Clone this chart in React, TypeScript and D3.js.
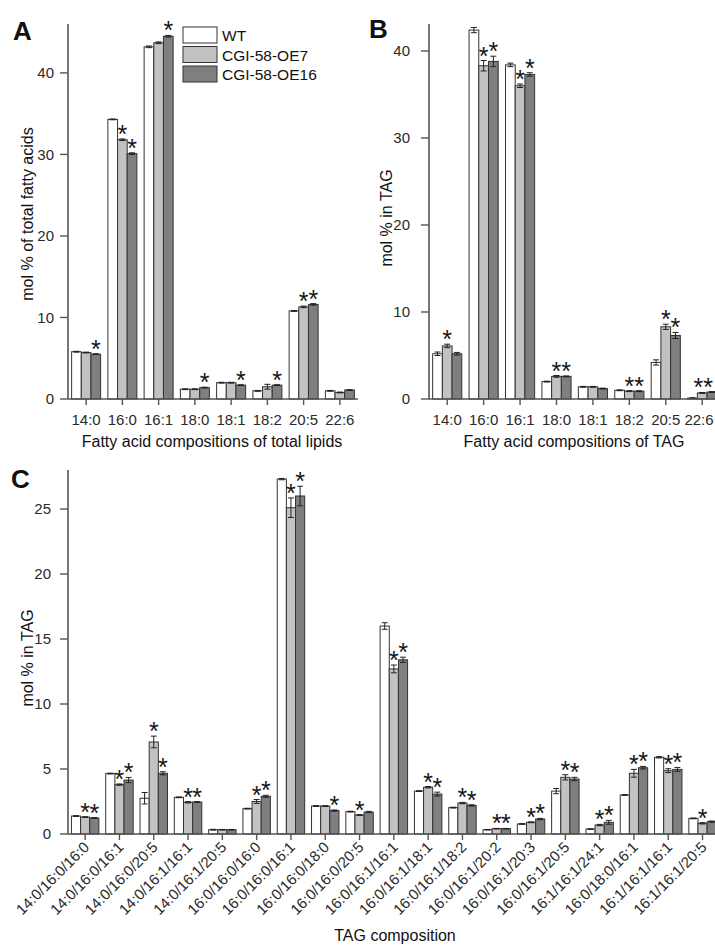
import React from "react";
import * as d3 from "d3";

// ---------- Data ----------
const seriesNames = ["WT", "CGI-58-OE7", "CGI-58-OE16"];

const categoriesA = ["14:0", "16:0", "16:1", "18:0", "18:1", "18:2", "20:5", "22:6"];
const wtA = [5.8, 34.3, 43.2, 1.2, 2.0, 1.0, 10.8, 1.0];
const oe7A = [5.7, 31.8, 43.7, 1.2, 2.0, 1.5, 11.3, 0.8];
const oe16A = [5.5, 30.1, 44.5, 1.4, 1.7, 1.7, 11.6, 1.1];
const wtErrA = [0.05, 0.05, 0.1, 0.05, 0.05, 0.05, 0.05, 0.05];
const oe7ErrA = [0.05, 0.1, 0.1, 0.05, 0.05, 0.3, 0.1, 0.05];
const oe16ErrA = [0.05, 0.1, 0.1, 0.05, 0.05, 0.05, 0.1, 0.05];
const oe7StarA = [0, 1, 0, 0, 0, 0, 1, 0];
const oe16StarA = [1, 1, 1, 1, 1, 1, 1, 0];
const yTicksA = [0, 10, 20, 30, 40];

const categoriesB = ["14:0", "16:0", "16:1", "18:0", "18:1", "18:2", "20:5", "22:6"];
const wtB = [5.2, 42.4, 38.4, 2.0, 1.4, 1.0, 4.2, 0.1];
const oe7B = [6.1, 38.3, 36.0, 2.6, 1.4, 0.9, 8.3, 0.7];
const oe16B = [5.2, 38.8, 37.3, 2.6, 1.2, 0.9, 7.3, 0.8];
const wtErrB = [0.2, 0.3, 0.2, 0.05, 0.05, 0.05, 0.3, 0.05];
const oe7ErrB = [0.2, 0.6, 0.2, 0.1, 0.05, 0.05, 0.3, 0.05];
const oe16ErrB = [0.15, 0.6, 0.2, 0.05, 0.05, 0.05, 0.35, 0.05];
const oe7StarB = [1, 1, 1, 1, 0, 1, 1, 1];
const oe16StarB = [0, 1, 1, 1, 0, 1, 1, 1];
const yTicksB = [0, 10, 20, 30, 40];

const categoriesC = [
  "14:0/16:0/16:0", "14:0/16:0/16:1", "14:0/16:0/20:5", "14:0/16:1/16:1", "14:0/16:1/20:5",
  "16:0/16:0/16:0", "16:0/16:0/16:1", "16:0/16:0/18:0", "16:0/16:0/20:5", "16:0/16:1/16:1",
  "16:0/16:1/18:1", "16:0/16:1/18:2", "16:0/16:1/20:2", "16:0/16:1/20:3", "16:0/16:1/20:5",
  "16:1/16:1/24:1", "16:0/18:0/16:1", "16:1/16:1/16:1", "16:1/16:1/20:5",
];
const wtC = [1.38, 4.65, 2.75, 2.82, 0.33, 1.95, 27.3, 2.15, 1.72, 16.0, 3.3, 2.03, 0.33, 0.77, 3.3, 0.38, 3.0, 5.9, 1.2];
const oe7C = [1.3, 3.8, 7.08, 2.44, 0.33, 2.5, 25.1, 2.15, 1.46, 12.7, 3.6, 2.38, 0.41, 0.9, 4.36, 0.69, 4.67, 4.87, 0.82];
const oe16C = [1.23, 4.15, 4.67, 2.46, 0.33, 2.9, 26.0, 1.8, 1.69, 13.4, 3.07, 2.2, 0.41, 1.15, 4.23, 0.9, 5.1, 4.97, 0.95];
const wtErrC = [0.03, 0.03, 0.44, 0.03, 0.03, 0.03, 0.05, 0.03, 0.03, 0.25, 0.03, 0.03, 0.02, 0.03, 0.2, 0.02, 0.03, 0.05, 0.03];
const oe7ErrC = [0.03, 0.05, 0.45, 0.05, 0.02, 0.15, 0.75, 0.03, 0.03, 0.3, 0.05, 0.05, 0.02, 0.03, 0.2, 0.05, 0.3, 0.15, 0.05];
const oe16ErrC = [0.03, 0.2, 0.12, 0.03, 0.02, 0.08, 0.75, 0.05, 0.05, 0.2, 0.15, 0.05, 0.02, 0.05, 0.13, 0.15, 0.1, 0.15, 0.05];
const oe7StarC = [1, 1, 1, 1, 0, 1, 1, 0, 1, 1, 1, 1, 1, 1, 1, 1, 1, 1, 1];
const oe16StarC = [1, 1, 1, 1, 0, 1, 1, 1, 0, 1, 1, 1, 1, 1, 1, 1, 1, 1, 0];
const yTicksC = [0, 5, 10, 15, 20, 25];

// ---------- Styles ----------
const FONT = "'Liberation Sans', Arial, Helvetica, sans-serif";
const fills = ["#ffffff", "#c2c2c2", "#7f7f7f"];
const BAR_STROKE = "#333";
const AXIS = "#555";
const TEXT = "#2a2a2a";
const SVG_W = 715;

type PanelProps = {
  cats: string[];
  values: number[][];
  errs: number[][];
  stars: number[][];
  xRange: [number, number];
  yDomain: [number, number];
  yRange: [number, number];
  yTicks: number[];
  xEnd: number;
  yLabelGap: number;
  rotated?: boolean;
};

function Panel(p: PanelProps) {
  const x = d3.scaleBand<string>().domain(p.cats).range(p.xRange).paddingInner(0.2).paddingOuter(0.1);
  const sub = d3.scaleBand<number>().domain([0, 1, 2]).range([0, x.bandwidth()]);
  const y = d3.scaleLinear().domain(p.yDomain).range(p.yRange);
  const axisX = p.xRange[0];
  const base = p.yRange[0];
  const top = p.yRange[1];
  const bw = sub.bandwidth();
  const cap = Math.min(6, bw * 0.65);
  return (
    <g>
      {p.cats.map((c, i) => {
        // shift a group's asterisks left if the right-most one would leave the picture
        let maxStarCx = -Infinity;
        p.stars.forEach((flags, k) => {
          if (flags[i]) maxStarCx = Math.max(maxStarCx, (x(c) as number) + (sub(k + 1) as number) + bw / 2);
        });
        const starShift = Math.max(0, maxStarCx - (SVG_W - 7));
        return (
          <g key={c}>
            {p.values.map((vals, s) => {
              const bx = (x(c) as number) + (sub(s) as number);
              const v = vals[i];
              return (
                <rect key={s} x={bx} y={y(v)} width={bw} height={base - y(v)}
                  fill={fills[s]} stroke={BAR_STROKE} strokeWidth={1} />
              );
            })}
            {p.values.map((vals, s) => {
              const cx = (x(c) as number) + (sub(s) as number) + bw / 2;
              const v = vals[i];
              const e = p.errs[s][i];
              const y1 = y(v + e), y0 = y(Math.max(0, v - e));
              return (
                <g key={"e" + s} stroke="#222" strokeWidth={1}>
                  <line x1={cx} x2={cx} y1={y1} y2={y0} />
                  <line x1={cx - cap / 2} x2={cx + cap / 2} y1={y1} y2={y1} />
                  <line x1={cx - cap / 2} x2={cx + cap / 2} y1={y0} y2={y0} />
                </g>
              );
            })}
            {p.stars.map((flags, k) => {
              if (!flags[i]) return null;
              const s = k + 1;
              const cx = (x(c) as number) + (sub(s) as number) + bw / 2 - starShift;
              const yt = y(p.values[s][i] + p.errs[s][i]);
              return (
                <text key={"s" + s} x={cx} y={yt + 4} textAnchor="middle" fontSize={25}
                  fontFamily={FONT} fill="#151515">*</text>
              );
            })}
          </g>
        );
      })}
      {/* axes */}
      <line x1={axisX} x2={axisX} y1={top} y2={base} stroke={AXIS} strokeWidth={1.6} />
      <line x1={axisX} x2={p.xEnd} y1={base} y2={base} stroke={AXIS} strokeWidth={1.6} />
      {p.yTicks.map((t) => (
        <g key={t}>
          <line x1={axisX - 8} x2={axisX} y1={y(t)} y2={y(t)} stroke={AXIS} strokeWidth={1.4} />
          <text x={axisX - p.yLabelGap} y={y(t)} dy="0.35em" textAnchor="end" fontSize={15}
            fontFamily={FONT} fill={TEXT}>{t}</text>
        </g>
      ))}
      {p.cats.map((c) => {
        const cx = (x(c) as number) + x.bandwidth() / 2;
        // keep the horizontal label inside the picture's right edge
        const lx = Math.min(cx, SVG_W - 16);
        return (
          <g key={"xt" + c}>
            <line x1={cx} x2={cx} y1={base} y2={base + 6} stroke={AXIS} strokeWidth={1.4} />
            {p.rotated ? (
              <text transform={`translate(${cx + 5},${base + 14}) rotate(-45)`} textAnchor="end"
                fontSize={15} fontFamily={FONT} fill={TEXT}>{c}</text>
            ) : (
              <text x={lx} y={base + 26} textAnchor="middle" fontSize={15} fontFamily={FONT} fill={TEXT}>{c}</text>
            )}
          </g>
        );
      })}
    </g>
  );
}

export default function App() {
  return (
    <svg width={715} height={946} viewBox="0 0 715 946"
      style={{ position: "absolute", left: 0, top: 0, background: "#fff" }}>
      <rect x={0} y={0} width={715} height={946} fill="#fff" />
      {/* Panel A */}
      <text x={13} y={40} fontSize={26} fontWeight="bold" fontFamily={FONT} fill="#111">A</text>
      <Panel cats={categoriesA} values={[wtA, oe7A, oe16A]} errs={[wtErrA, oe7ErrA, oe16ErrA]}
        stars={[oe7StarA, oe16StarA]} xRange={[68, 358]} yDomain={[0, 46]} yRange={[399, 24]}
        yTicks={yTicksA} xEnd={358} yLabelGap={14} />
      <text transform="translate(33,214) rotate(-90)" textAnchor="middle" fontSize={16}
        fontFamily={FONT} fill="#111">mol % of total fatty acids</text>
      <text x={212} y={447} textAnchor="middle" fontSize={16} fontFamily={FONT} fill="#111">
        Fatty acid compositions of  total lipids
      </text>
      {/* Legend */}
      {seriesNames.map((n, i) => (
        <g key={n}>
          <rect x={183} y={27 + i * 19.5} width={34} height={16} fill={fills[i]} stroke={BAR_STROKE} strokeWidth={1} />
          <text x={222} y={41 + i * 19.5} fontSize={15.5} fontFamily={FONT} fill="#111">{n}</text>
        </g>
      ))}

      {/* Panel B */}
      <text x={369} y={38} fontSize={26} fontWeight="bold" fontFamily={FONT} fill="#111">B</text>
      <Panel cats={categoriesB} values={[wtB, oe7B, oe16B]} errs={[wtErrB, oe7ErrB, oe16ErrB]}
        stars={[oe7StarB, oe16StarB]} xRange={[429, 720.4]} yDomain={[0, 43.1]} yRange={[399, 24]}
        yTicks={yTicksB} xEnd={715} yLabelGap={19} />
      <text transform="translate(392,218) rotate(-90)" textAnchor="middle" fontSize={16}
        fontFamily={FONT} fill="#111">mol % in TAG</text>
      <text x={574} y={447} textAnchor="middle" fontSize={16} fontFamily={FONT} fill="#111">
        Fatty acid compositions of TAG
      </text>

      {/* Panel C */}
      <text x={11} y={488} fontSize={26} fontWeight="bold" fontFamily={FONT} fill="#111">C</text>
      <Panel cats={categoriesC} values={[wtC, oe7C, oe16C]} errs={[wtErrC, oe7ErrC, oe16ErrC]}
        stars={[oe7StarC, oe16StarC]} xRange={[68, 719.7]} yDomain={[0, 28]} yRange={[834, 470]}
        yTicks={yTicksC} xEnd={715} yLabelGap={17} rotated />
      <text transform="translate(33,658) rotate(-90)" textAnchor="middle" fontSize={16}
        fontFamily={FONT} fill="#111">mol % in TAG</text>
      <text x={395} y={941} textAnchor="middle" fontSize={16} fontFamily={FONT} fill="#111">TAG composition</text>
    </svg>
  );
}
